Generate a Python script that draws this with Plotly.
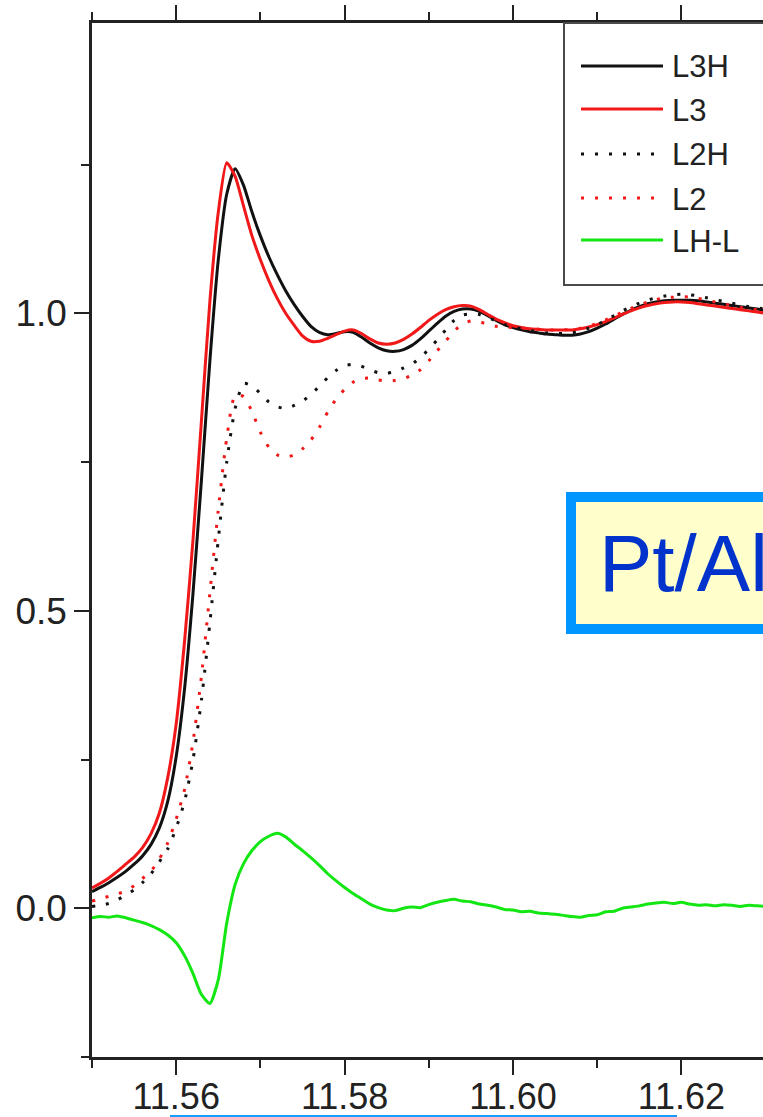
import plotly.graph_objects as go

# ---------------- data ----------------
energy = [11.550, 11.551, 11.552, 11.553, 11.554, 11.555, 11.556, 11.557, 11.558, 11.559,
          11.560, 11.561, 11.562, 11.563, 11.564, 11.565, 11.566, 11.567, 11.568, 11.569,
          11.570, 11.571, 11.572, 11.573, 11.574, 11.575, 11.576, 11.577, 11.578, 11.579,
          11.580, 11.581, 11.582, 11.583, 11.584, 11.585, 11.586, 11.587, 11.588, 11.589,
          11.590, 11.591, 11.592, 11.593, 11.594, 11.595, 11.596, 11.597, 11.598, 11.599,
          11.600, 11.601, 11.602, 11.603, 11.604, 11.605, 11.606, 11.607, 11.608, 11.609,
          11.610, 11.611, 11.612, 11.613, 11.614, 11.615, 11.616, 11.617, 11.618, 11.619,
          11.620, 11.621, 11.622, 11.623, 11.624, 11.625, 11.626, 11.627, 11.628, 11.629,
          11.630]

L3H = [0.028, 0.035, 0.043, 0.052, 0.062, 0.074, 0.088, 0.107, 0.135, 0.18,
       0.255, 0.37, 0.53, 0.72, 0.92, 1.09, 1.2, 1.243, 1.215, 1.17,
       1.13, 1.095, 1.065, 1.038, 1.015, 0.995, 0.978, 0.968, 0.964, 0.966,
       0.969, 0.968, 0.96, 0.95, 0.942, 0.937, 0.936, 0.939, 0.946, 0.957,
       0.97, 0.983, 0.995, 1.003, 1.007, 1.007, 1.003, 0.996, 0.988, 0.981,
       0.976, 0.972, 0.969, 0.967, 0.965, 0.964, 0.963, 0.963, 0.965, 0.969,
       0.975, 0.982, 0.99, 0.998, 1.005, 1.011, 1.016, 1.019, 1.021, 1.022,
       1.022, 1.022, 1.021, 1.019, 1.017, 1.015, 1.013, 1.011, 1.009, 1.007,
       1.005]

L3 = [0.034, 0.042, 0.051, 0.062, 0.074, 0.086, 0.102, 0.125, 0.16, 0.22,
      0.31, 0.45, 0.62, 0.82, 1.02, 1.17, 1.253, 1.23, 1.18, 1.13,
      1.09, 1.055, 1.025, 1.0, 0.98, 0.962, 0.953, 0.953, 0.958, 0.964,
      0.97, 0.972, 0.966, 0.957, 0.95, 0.948, 0.95, 0.956, 0.965, 0.976,
      0.988, 0.998, 1.006, 1.011, 1.013, 1.012, 1.006, 0.998, 0.99, 0.984,
      0.979, 0.976, 0.974, 0.973, 0.972, 0.972, 0.972, 0.972, 0.974, 0.977,
      0.981, 0.986, 0.992, 0.998, 1.004, 1.009, 1.013, 1.016, 1.018, 1.019,
      1.019, 1.018, 1.016, 1.014, 1.012, 1.01, 1.008, 1.006, 1.004, 1.002,
      1.0]

L2H = [0.003, 0.005, 0.008, 0.014, 0.022, 0.031, 0.043, 0.058, 0.078, 0.1,
       0.135, 0.18, 0.25, 0.35, 0.48, 0.62, 0.75, 0.84, 0.882, 0.878,
       0.865, 0.851, 0.843, 0.84, 0.845, 0.852, 0.864, 0.877, 0.892, 0.904,
       0.912, 0.914, 0.911, 0.905, 0.9, 0.899, 0.902, 0.908, 0.915, 0.925,
       0.94, 0.955, 0.972, 0.988, 0.997, 0.999, 0.998, 0.993, 0.987, 0.981,
       0.977, 0.974, 0.971, 0.969, 0.967, 0.966, 0.966, 0.967, 0.97, 0.975,
       0.981, 0.988, 0.996, 1.004, 1.011, 1.017, 1.022, 1.026, 1.029, 1.031,
       1.032, 1.031, 1.029, 1.026, 1.023, 1.02, 1.017, 1.014, 1.011, 1.009,
       1.007]

L2 = [0.012, 0.016, 0.02, 0.024, 0.029, 0.038, 0.05, 0.062, 0.083, 0.11,
      0.15, 0.2, 0.28, 0.39, 0.53, 0.67, 0.79, 0.862, 0.86, 0.835,
      0.8, 0.775, 0.762, 0.758, 0.762, 0.772, 0.787, 0.808, 0.834, 0.856,
      0.872, 0.884, 0.89, 0.891, 0.888, 0.886, 0.887, 0.89, 0.896, 0.905,
      0.92, 0.937, 0.953, 0.97, 0.982, 0.987, 0.986, 0.981, 0.978, 0.977,
      0.976, 0.975, 0.974, 0.973, 0.972, 0.972, 0.972, 0.973, 0.975, 0.978,
      0.983, 0.989, 0.995, 1.002, 1.008, 1.014, 1.019, 1.023, 1.026, 1.027,
      1.028, 1.027, 1.025, 1.022, 1.019, 1.016, 1.013, 1.01, 1.008, 1.006,
      1.004]

LH_L = [-0.016, -0.014, -0.015, -0.013, -0.016, -0.02, -0.024, -0.029, -0.036, -0.045,
        -0.058, -0.08, -0.11, -0.145, -0.16, -0.12, -0.025, 0.04, 0.075, 0.097,
        0.112, 0.121, 0.126, 0.12, 0.108, 0.097, 0.085, 0.072, 0.058, 0.046,
        0.035, 0.025, 0.016, 0.007, 0.001, -0.003, -0.004, 0.0, 0.002, 0.001,
        0.006, 0.01, 0.013, 0.015, 0.012, 0.011, 0.007, 0.005, 0.002, -0.002,
        -0.003, -0.006, -0.005, -0.008, -0.009, -0.01, -0.012, -0.014, -0.015, -0.012,
        -0.011, -0.006, -0.005, 0.0, 0.002, 0.004, 0.007, 0.009, 0.01, 0.008,
        0.01, 0.007, 0.005, 0.006, 0.004, 0.006, 0.005, 0.003, 0.005, 0.004,
        0.003]

series_names = ["L3H", "L3", "L2H", "L2", "LH-L"]
series_values = [L3H, L3, L2H, L2, LH_L]
series_colors = ["#111111", "#f01818", "#111111", "#f01818", "#14e614"]
series_dash = ["solid", "solid", "3px,11px", "3px,11px", "solid"]

x_tick_values = [11.56, 11.58, 11.60, 11.62]
y_tick_values = [0.0, 0.5, 1.0]
label_text = "Pt/Al<sub>2</sub>O<sub>3</sub>"

# ---------------- layout geometry ----------------
W, H = 763, 1117
ML, MR, MT, MB = 92, 0, 23, 60
PW, PH = W - ML - MR, H - MT - MB
X0, Y0 = 11.55, -0.25
X_PER_UNIT, Y_PER_UNIT = 8420.0, 595.0


def fx(px):
    return (px - ML) / PW


def fy(py):
    return (H - MB - py) / PH


FONT = "Liberation Sans, Arial, sans-serif"
AX = "#222222"

fig = go.Figure()
for name, vals, col, dash in zip(series_names, series_values, series_colors, series_dash):
    fig.add_trace(go.Scatter(
        x=energy, y=vals, name=name, mode="lines",
        line=dict(color=col, width=3, dash=dash, shape="spline", smoothing=0.6),
        showlegend=False,
    ))

fig.update_xaxes(
    range=[X0, X0 + PW / X_PER_UNIT],
    tickvals=x_tick_values, tickformat=".2f",
    ticks="outside", ticklen=15, tickwidth=2, tickcolor=AX,
    ticklabelstandoff=-9,
    showline=True, linewidth=2.5, linecolor=AX, mirror="ticks",
    showgrid=False, zeroline=False,
    tickfont=dict(family=FONT, size=36, color=AX),
    minor=dict(dtick=0.01, tick0=11.55, ticks="outside", ticklen=8,
               tickwidth=2, tickcolor=AX, showgrid=False),
)
fig.update_yaxes(
    range=[Y0, Y0 + PH / Y_PER_UNIT],
    tickvals=y_tick_values, tickformat=".1f",
    ticks="outside", ticklen=15, tickwidth=2, tickcolor=AX,
    showline=True, linewidth=2.5, linecolor=AX, mirror=False,
    showgrid=False, zeroline=False,
    tickfont=dict(family=FONT, size=37, color=AX),
    minor=dict(dtick=0.25, tick0=0, ticks="outside", ticklen=8,
               tickwidth=2, tickcolor=AX, showgrid=False),
)

shapes = []
annotations = []

# legend box (built by hand so it runs off the right edge like the original)
shapes.append(dict(type="rect", xref="paper", yref="paper",
                   x0=fx(564), x1=fx(830), y0=fy(285), y1=fy(23),
                   line=dict(color="#4a4a4a", width=2), fillcolor="white", layer="above"))
legend_rows = [66, 109, 154, 198, 240]
for name, col, dash, ry in zip(series_names, series_colors, series_dash, legend_rows):
    shapes.append(dict(type="line", xref="paper", yref="paper",
                       x0=fx(581), x1=fx(663), y0=fy(ry), y1=fy(ry),
                       line=dict(color=col, width=3, dash=dash), layer="above"))
    annotations.append(dict(xref="paper", yref="paper", x=fx(670), y=fy(ry + 1),
                            xanchor="left", yanchor="middle", showarrow=False,
                            text=name, font=dict(family=FONT, size=31, color=AX)))

# sample label box
shapes.append(dict(type="rect", xref="paper", yref="paper",
                   x0=fx(571), x1=fx(900), y0=fy(629), y1=fy(497),
                   line=dict(color="#0096ff", width=10), fillcolor="#ffffcc", layer="above"))
annotations.append(dict(xref="paper", yref="paper", x=fx(597), y=fy(569),
                        xanchor="left", yanchor="middle", showarrow=False,
                        text=label_text, font=dict(family=FONT, size=80, color="#0033cc")))

# thin blue rule at the very bottom
shapes.append(dict(type="line", xref="paper", yref="paper",
                   x0=fx(170), x1=fx(677), y0=fy(1116), y1=fy(1116),
                   line=dict(color="#1a9cff", width=2)))

fig.update_layout(
    width=W, height=H,
    margin=dict(l=ML, r=MR, t=MT, b=MB, pad=0),
    paper_bgcolor="white", plot_bgcolor="white",
    showlegend=False,
    shapes=shapes, annotations=annotations,
    font=dict(family=FONT, color=AX),
)

fig.write_html("out.html", config={"displayModeBar": False})
